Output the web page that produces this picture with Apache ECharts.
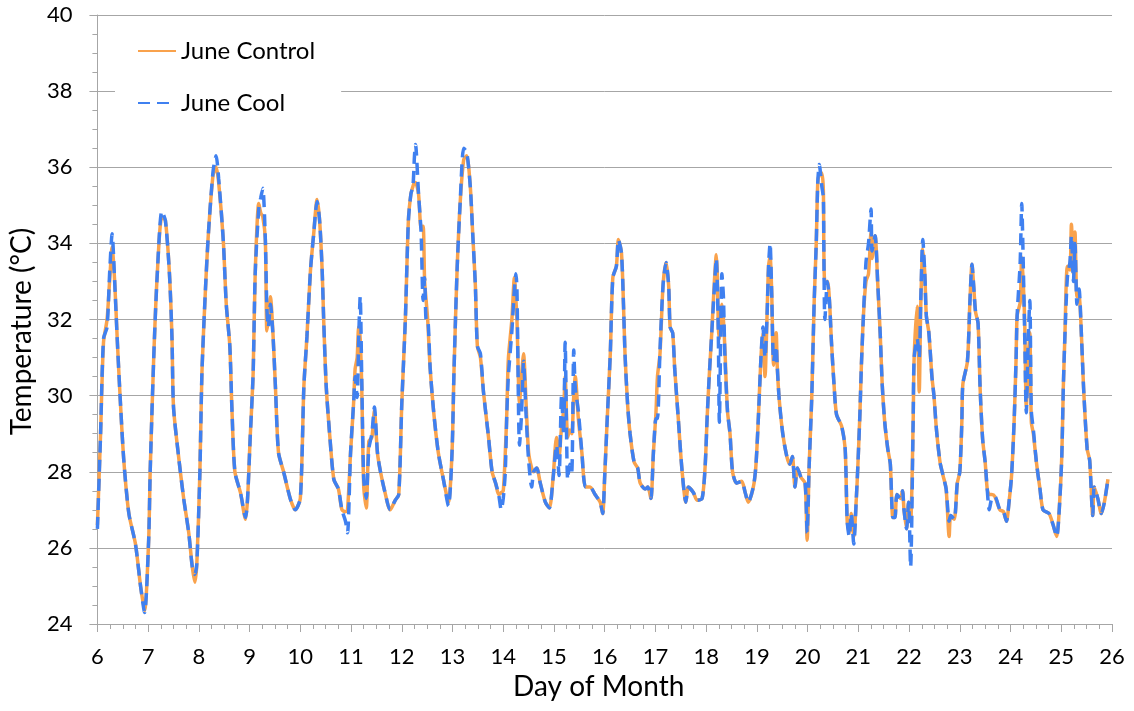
<!DOCTYPE html>
<html>
<head>
<meta charset="utf-8">
<title>June Control vs June Cool</title>
<script src="https://cdn.jsdelivr.net/npm/echarts@6/dist/echarts.min.js"></script>
<style>
  html, body { margin: 0; padding: 0; background: #fff; }
  #chart { width: 1134px; height: 711px; }
</style>
</head>
<body>
<div id="chart"></div>
<script>
// day of month (fractional)
const days = [
  6.00, 6.06, 6.12, 6.19, 6.24, 6.29, 6.34, 6.39, 6.45, 6.52, 6.62, 6.75, 6.85, 6.93,
  7.01, 7.04, 7.11, 7.18, 7.27, 7.34, 7.42, 7.47, 7.50, 7.60, 7.70, 7.80, 7.87, 7.92, 7.96,
  8.02, 8.06, 8.13, 8.19, 8.28, 8.34, 8.39, 8.48, 8.54, 8.61, 8.65, 8.71, 8.82, 8.92, 8.96,
  9.01, 9.07, 9.11, 9.18, 9.22, 9.26, 9.31, 9.34, 9.37, 9.41, 9.46, 9.51, 9.57, 9.67, 9.80, 9.90,
  10.00, 10.07, 10.13, 10.20, 10.26, 10.33, 10.38, 10.43, 10.46, 10.51, 10.58, 10.66, 10.75, 10.82, 10.89, 10.93, 10.99,
  11.05, 11.08, 11.12, 11.15, 11.18, 11.21, 11.25, 11.30, 11.35, 11.41, 11.46, 11.52, 11.58, 11.67, 11.77, 11.87, 11.94,
  12.00, 12.07, 12.13, 12.18, 12.22, 12.25, 12.27, 12.33, 12.38, 12.42, 12.45, 12.48, 12.51, 12.56, 12.63, 12.72, 12.82, 12.92, 12.99,
  13.03, 13.09, 13.15, 13.22, 13.28, 13.35, 13.40, 13.45, 13.49, 13.55, 13.61, 13.71, 13.78, 13.85, 13.91, 13.96,
  14.00, 14.04, 14.07, 14.10, 14.17, 14.22, 14.25, 14.27, 14.32, 14.36, 14.40, 14.45, 14.50, 14.56, 14.60, 14.66, 14.73, 14.83, 14.91, 14.98,
  15.05, 15.10, 15.15, 15.19, 15.22, 15.27, 15.31, 15.35, 15.39, 15.42, 15.48, 15.55, 15.62, 15.71, 15.81, 15.91, 15.96,
  16.00, 16.05, 16.11, 16.16, 16.23, 16.27, 16.33, 16.37, 16.40, 16.45, 16.50, 16.58, 16.65, 16.70, 16.80, 16.85, 16.91, 16.96,
  17.01, 17.04, 17.09, 17.15, 17.21, 17.26, 17.29, 17.34, 17.38, 17.45, 17.52, 17.60, 17.65, 17.75, 17.82, 17.92, 17.98,
  18.02, 18.06, 18.11, 18.16, 18.20, 18.22, 18.24, 18.26, 18.31, 18.34, 18.37, 18.42, 18.47, 18.52, 18.60, 18.70, 18.77, 18.83, 18.93, 18.98,
  19.03, 19.08, 19.12, 19.16, 19.20, 19.23, 19.26, 19.29, 19.33, 19.38, 19.40, 19.44, 19.51, 19.59, 19.65, 19.70, 19.75, 19.80, 19.87, 19.95, 19.99,
  20.03, 20.08, 20.13, 20.17, 20.20, 20.23, 20.28, 20.31, 20.32, 20.34, 20.39, 20.43, 20.47, 20.52, 20.57, 20.67, 20.74, 20.78, 20.82, 20.86, 20.91, 20.96, 20.99,
  21.03, 21.06, 21.10, 21.15, 21.20, 21.25, 21.27, 21.33, 21.38, 21.43, 21.47, 21.52, 21.58, 21.63, 21.68, 21.72, 21.76, 21.83, 21.87, 21.90, 21.95, 21.99,
  22.03, 22.08, 22.10, 22.16, 22.20, 22.23, 22.27, 22.31, 22.34, 22.39, 22.45, 22.49, 22.54, 22.61, 22.67, 22.73, 22.79, 22.82, 22.89, 22.95,
  23.00, 23.04, 23.06, 23.15, 23.20, 23.24, 23.27, 23.31, 23.36, 23.40, 23.45, 23.50, 23.54, 23.58, 23.63, 23.69, 23.79, 23.86, 23.92, 23.97,
  24.02, 24.07, 24.11, 24.13, 24.19, 24.22, 24.25, 24.28, 24.31, 24.35, 24.38, 24.41, 24.45, 24.51, 24.58, 24.64, 24.76, 24.84, 24.91, 24.96,
  25.01, 25.04, 25.07, 25.12, 25.17, 25.20, 25.24, 25.27, 25.31, 25.35, 25.40, 25.44, 25.51, 25.56, 25.62, 25.65, 25.72, 25.79, 25.85, 25.92
];

// June Control temperature (°C)
const control = [
  26.6, 28.9, 31.4, 32.0, 33.0, 33.9, 33.0, 31.5, 29.9, 28.3, 26.9, 26.1, 25.0, 24.35,
  26.2, 28.0, 31.0, 33.2, 34.7, 34.6, 33.2, 31.5, 29.7, 28.4, 27.3, 26.4, 25.5, 25.1, 25.6,
  28.0, 30.6, 32.8, 34.3, 35.8, 36.0, 35.6, 34.1, 32.4, 31.3, 29.7, 28.0, 27.45, 26.75, 27.3,
  28.85, 30.6, 33.2, 35.05, 34.8, 34.7, 34.1, 31.7, 32.0, 32.6, 31.65, 30.2, 28.5, 28.0, 27.3, 27.0,
  27.3, 30.25, 31.55, 33.3, 34.2, 35.15, 34.6, 33.3, 32.0, 30.25, 28.95, 27.8, 27.55, 27.0, 26.95, 27.0, 28.5,
  29.8, 30.7, 31.0, 31.8, 31.5, 30.25, 27.6, 27.05, 28.8, 28.9, 29.6, 28.5, 28.0, 27.45, 27.0, 27.25, 27.4,
  29.8, 32.0, 34.6, 35.3, 35.5, 35.6, 35.6, 35.3, 34.4, 34.45, 33.0, 32.5, 32.0, 30.7, 29.55, 28.5, 27.8, 27.2, 28.5,
  30.7, 33.3, 35.05, 36.2, 36.3, 35.5, 34.2, 32.9, 31.3, 31.0, 30.1, 28.9, 28.0, 27.7, 27.4, 27.45,
  27.5, 28.5, 29.55, 30.95, 32.0, 33.1, 32.5, 32.0, 29.8, 30.5, 31.1, 29.8, 28.5, 28.1, 28.0, 28.1, 27.7, 27.2, 27.05, 27.8,
  28.9, 28.4, 29.2, 29.6, 30.5, 28.9, 29.1, 29.0, 30.0, 30.5, 29.4, 28.5, 27.6, 27.6, 27.4, 27.2, 26.9,
  27.9, 29.4, 31.1, 33.1, 33.4, 34.1, 33.75, 32.4, 31.1, 29.8, 29.0, 28.25, 28.1, 27.7, 27.55, 27.6, 27.3, 28.5,
  29.55, 30.5, 31.1, 32.9, 33.5, 32.9, 31.8, 31.65, 30.7, 29.4, 28.1, 27.2, 27.6, 27.45, 27.25, 27.3, 28.15,
  29.45, 30.5, 31.65, 32.95, 33.7, 33.2, 31.8, 31.5, 32.4, 32.0, 31.2, 29.6, 29.0, 28.0, 27.7, 27.75, 27.45, 27.2, 27.6, 28.15,
  29.45, 31.0, 31.65, 30.5, 32.1, 33.4, 33.65, 32.8, 30.8, 31.65, 30.8, 29.9, 29.0, 28.4, 28.2, 28.4, 27.6, 28.1, 27.85, 27.7, 26.2,
  28.15, 29.9, 32.5, 34.0, 35.6, 35.8, 35.85, 35.4, 33.8, 33.0, 33.0, 32.5, 31.4, 30.3, 29.5, 29.2, 28.6, 26.7, 26.4, 26.9, 26.3, 27.3, 28.15,
  29.5, 30.8, 32.1, 33.0, 33.2, 34.3, 33.6, 34.2, 33.0, 31.65, 30.3, 29.3, 28.6, 28.2, 26.8, 26.8, 27.4, 27.3, 27.5, 27.0, 26.5, 27.2,
  26.7, 29.3, 31.0, 32.35, 30.1, 32.35, 33.85, 33.2, 32.1, 31.65, 30.5, 30.0, 29.1, 28.25, 27.9, 27.55, 26.3, 26.85, 26.75, 27.7,
  28.0, 29.3, 30.3, 30.9, 32.5, 33.45, 32.95, 32.2, 31.9, 30.2, 28.85, 28.25, 27.55, 27.4, 27.4, 27.35, 27.0, 26.95, 26.7, 27.2,
  27.9, 29.3, 31.0, 32.1, 32.45, 33.65, 33.0, 31.9, 29.7, 31.0, 31.65, 29.3, 29.0, 28.25, 27.55, 27.0, 26.9, 26.6, 26.3, 27.0,
  28.4, 30.2, 31.5, 33.4, 33.3, 34.5, 33.2, 34.3, 32.6, 32.6, 31.5, 30.2, 28.6, 28.3, 26.85, 27.6, 27.3, 26.9, 27.2, 27.8
];

// June Cool temperature (°C)
const cool = [
  26.5, 28.9, 31.5, 31.8, 33.2, 34.25, 33.0, 31.5, 29.9, 28.3, 26.9, 26.1, 25.0, 24.3,
  26.2, 28.0, 31.0, 33.2, 34.85, 34.6, 33.2, 31.5, 29.7, 28.4, 27.3, 26.4, 25.5, 25.3, 25.6,
  28.0, 30.6, 32.8, 34.3, 35.9, 36.3, 35.7, 34.1, 32.4, 31.3, 29.7, 28.0, 27.45, 26.8, 27.3,
  28.85, 30.6, 33.2, 34.9, 35.2, 35.45, 34.1, 32.3, 31.8, 32.4, 31.6, 30.2, 28.5, 28.0, 27.3, 27.0,
  27.3, 30.25, 31.55, 33.3, 34.2, 35.1, 34.6, 33.3, 32.0, 30.25, 28.95, 27.8, 27.55, 27.0, 26.7, 26.4, 28.5,
  29.8, 30.5, 29.95, 31.5, 32.6, 30.5, 27.8, 27.3, 28.6, 29.0, 29.7, 28.5, 28.0, 27.45, 27.0, 27.25, 27.4,
  29.8, 32.0, 34.6, 35.3, 35.5, 36.3, 36.6, 35.3, 34.3, 32.5, 33.1, 32.0, 32.0, 30.7, 29.55, 28.5, 27.8, 27.1, 28.5,
  30.7, 33.3, 35.05, 36.5, 36.4, 35.5, 34.2, 32.9, 31.3, 31.1, 30.1, 28.9, 28.0, 27.7, 27.4, 27.0,
  27.3, 28.0, 29.5, 30.5, 31.7, 32.8, 33.2, 32.8, 28.7, 29.5, 30.9, 29.5, 28.3, 27.6, 28.0, 28.1, 27.7, 27.2, 27.05, 27.8,
  28.7, 27.9, 30.0, 29.0, 31.4, 27.8, 28.2, 28.0, 31.2, 30.2, 29.6, 28.5, 27.6, 27.6, 27.4, 27.2, 26.9,
  27.9, 29.4, 31.1, 33.1, 33.4, 34.1, 33.75, 32.4, 31.1, 29.8, 29.0, 28.25, 28.1, 27.7, 27.55, 27.6, 27.3, 28.5,
  29.4, 29.4, 31.2, 32.9, 33.5, 32.9, 31.8, 31.65, 30.7, 29.4, 28.1, 27.2, 27.6, 27.45, 27.25, 27.3, 28.15,
  29.45, 30.5, 31.65, 32.8, 33.6, 32.9, 31.6, 29.3, 33.2, 32.6, 31.0, 29.6, 29.0, 28.0, 27.7, 27.75, 27.45, 27.2, 27.6, 28.15,
  29.45, 31.0, 31.8, 31.0, 32.1, 33.4, 34.0, 32.8, 30.9, 31.3, 30.8, 29.9, 29.0, 28.4, 28.2, 28.4, 27.6, 28.1, 27.85, 27.7, 26.4,
  28.15, 29.9, 32.5, 34.0, 35.6, 36.07, 35.5, 35.2, 33.8, 32.0, 33.0, 32.5, 31.4, 30.3, 29.5, 29.2, 28.6, 26.7, 26.3, 26.9, 26.1, 27.3, 28.15,
  29.5, 30.8, 32.1, 33.5, 34.0, 34.9, 33.8, 34.2, 33.0, 31.65, 30.3, 29.3, 28.6, 28.2, 26.8, 26.8, 27.4, 27.3, 27.5, 27.0, 26.5, 27.2,
  25.5, 29.3, 31.0, 31.5, 31.0, 32.5, 34.1, 33.2, 32.1, 31.65, 30.5, 30.0, 29.1, 28.25, 27.9, 27.55, 26.7, 26.85, 26.75, 27.7,
  28.0, 29.3, 30.3, 30.9, 32.5, 33.45, 32.95, 32.2, 31.9, 30.2, 28.85, 28.25, 27.55, 27.0, 27.3, 27.35, 27.0, 26.95, 26.7, 27.2,
  27.9, 29.3, 31.0, 32.1, 33.5, 35.05, 33.5, 31.5, 29.55, 31.5, 32.5, 29.6, 29.1, 28.25, 27.55, 27.0, 26.9, 26.6, 26.3, 27.0,
  28.4, 30.2, 31.5, 33.1, 33.5, 34.2, 33.0, 34.0, 32.4, 32.8, 31.5, 30.2, 28.6, 28.3, 26.85, 27.6, 27.3, 26.9, 27.2, 27.8
];

const seriesNames = ['June Control', 'June Cool'];
const axisGray = '#a6a6a6';
const fontFamily = 'Lato, "Open Sans", sans-serif';

const chart = echarts.init(document.getElementById('chart'));

function pairs(values) {
  return days.map((d, i) => [d, values[i]]);
}

const option = {
  animation: false,
  backgroundColor: '#fff',
  grid: { left: 97, right: 22, top: 15, bottom: 87 },
  legend: {
    orient: 'vertical',
    left: 115,
    top: 28,
    padding: [10, 26, 14, 22],
    backgroundColor: '#fff',
    itemWidth: 38,
    itemHeight: 14,
    itemGap: 26,
    itemStyle: { opacity: 0 },
    textStyle: { fontFamily: fontFamily, fontSize: 24, color: '#000', lineHeight: 26 },
    data: seriesNames
  },
  xAxis: {
    type: 'value',
    min: 6,
    max: 26,
    interval: 1,
    name: 'Day of Month',
    nameLocation: 'middle',
    nameGap: 46,
    nameTextStyle: { fontFamily: fontFamily, fontSize: 28, color: '#000', padding: [0, 12, 0, 0] },
    axisLine: { lineStyle: { color: axisGray, width: 1 } },
    axisTick: { length: 8, lineStyle: { color: axisGray } },
    minorTick: { show: true, splitNumber: 4, length: 5, lineStyle: { color: axisGray } },
    axisLabel: { margin: 22, fontFamily: fontFamily, fontSize: 22, color: '#000' },
    splitLine: { show: false }
  },
  yAxis: {
    type: 'value',
    min: 24,
    max: 40,
    interval: 2,
    name: 'Temperature (°C)',
    nameLocation: 'middle',
    nameGap: 60,
    nameTextStyle: { fontFamily: fontFamily, fontSize: 28, color: '#000', padding: [0, 24, 0, 0] },
    axisLine: { show: true, lineStyle: { color: axisGray, width: 1 } },
    axisTick: { show: true, length: 8, lineStyle: { color: axisGray } },
    minorTick: { show: true, splitNumber: 4, length: 5, lineStyle: { color: axisGray } },
    axisLabel: { margin: 25, fontFamily: fontFamily, fontSize: 22, color: '#000' },
    splitLine: { show: true, lineStyle: { color: axisGray, width: 1 } }
  },
  series: [
    {
      name: seriesNames[0],
      type: 'line',
      data: pairs(control),
      showSymbol: false,
      symbol: 'none',
      smooth: 0.25,
      z: 2,
      lineStyle: { color: '#F9A24C', width: 3.5 },
      itemStyle: { color: '#F9A24C' }
    },
    {
      name: seriesNames[1],
      type: 'line',
      data: pairs(cool),
      showSymbol: false,
      symbol: 'none',
      smooth: 0.25,
      z: 3,
      lineStyle: { color: '#3F80F0', width: 3.5, type: [12, 7] },
      itemStyle: { color: '#3F80F0' }
    }
  ]
};

chart.setOption(option);
window.addEventListener('resize', chart.resize);
</script>
</body>
</html>
